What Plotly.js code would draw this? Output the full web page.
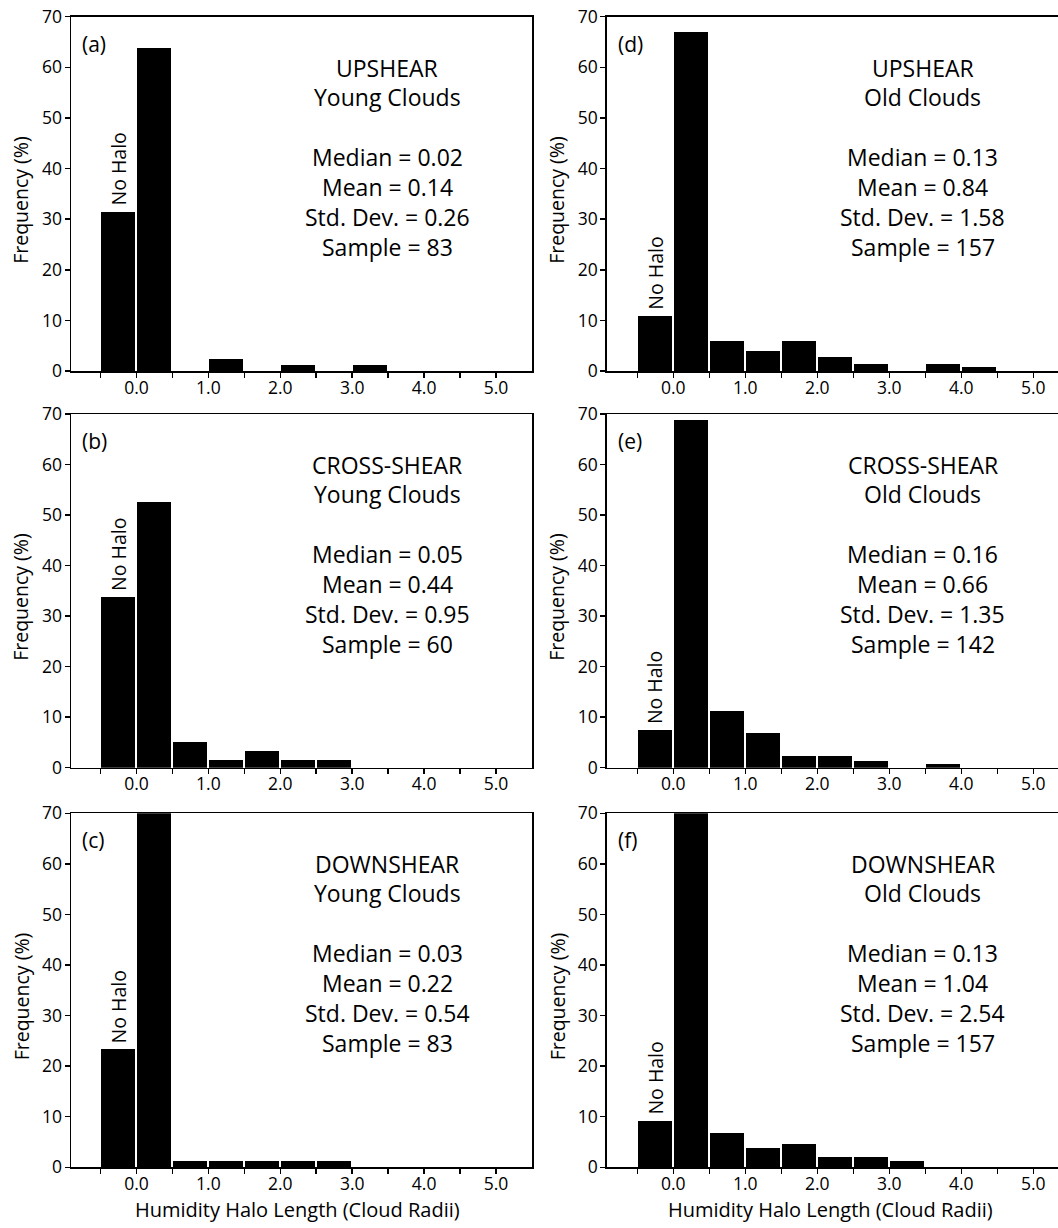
<!DOCTYPE html>
<html>
<head>
<meta charset="utf-8">
<script src="https://cdn.plot.ly/plotly-3.0.1.min.js"></script>
<style>html,body{margin:0;padding:0;background:#fff;}#chart{width:1058px;height:1228px;}</style>
</head>
<body>
<div id="chart"></div>
<script>
// ---- data ----
const binCenters = [-0.25, 0.25, 0.75, 1.25, 1.75, 2.25, 2.75, 3.25, 3.75, 4.25, 4.75];
const xTickVals = [-0.5, 0, 0.5, 1, 1.5, 2, 2.5, 3, 3.5, 4, 4.5, 5];
const xTickText = ['', '0.0', '', '1.0', '', '2.0', '', '3.0', '', '4.0', '', '5.0'];
const yTickVals = [0, 10, 20, 30, 40, 50, 60, 70];

const freqA = [31.5, 63.8, 0, 2.4, 0, 1.2, 0, 1.2, 0, 0, 0];
const freqB = [33.8, 52.6, 5.0, 1.6, 3.4, 1.6, 1.6, 0, 0, 0, 0];
const freqC = [23.3, 70.9, 1.2, 1.2, 1.2, 1.2, 1.2, 0, 0, 0, 0];
const freqD = [10.9, 67.0, 6.0, 3.9, 6.0, 2.8, 1.3, 0, 1.3, 0.7, 0];
const freqE = [7.4, 68.8, 11.2, 6.8, 2.3, 2.3, 1.4, 0, 0.7, 0, 0];
const freqF = [9.2, 70.3, 6.7, 3.9, 4.6, 2.0, 2.0, 1.3, 0, 0, 0];

const panelLetters = ['(a)', '(b)', '(c)', '(d)', '(e)', '(f)'];
const regions = ['UPSHEAR', 'CROSS-SHEAR', 'DOWNSHEAR', 'UPSHEAR', 'CROSS-SHEAR', 'DOWNSHEAR'];
const ages = ['Young Clouds', 'Young Clouds', 'Young Clouds', 'Old Clouds', 'Old Clouds', 'Old Clouds'];
const medians = ['0.02', '0.05', '0.03', '0.13', '0.16', '0.13'];
const means = ['0.14', '0.44', '0.22', '0.84', '0.66', '1.04'];
const stdDevs = ['0.26', '0.95', '0.54', '1.58', '1.35', '2.54'];
const samples = ['83', '60', '83', '157', '142', '157'];
const noHaloLabel = 'No Halo';
const xTitle = 'Humidity Halo Length (Cloud Radii)';
const yTitle = 'Frequency (%)';

const freqs = [freqA, freqB, freqC, freqD, freqE, freqF];

// ---- layout geometry ----
const W = 1058, H = 1228;
const FONT = 'Open Sans, Noto Sans, sans-serif';
const colX = [[71, 532], [606.7, 1058]];
const colRange = [[-0.91, 5.5], [-0.925, 5.343]];
const rowY = [[16.7, 371], [414, 767.7], [813.3, 1167.3]];

const traces = [];
const layout = {
  width: W, height: H,
  margin: {l: 0, r: 0, t: 0, b: 0},
  paper_bgcolor: '#fff', plot_bgcolor: '#fff',
  showlegend: false,
  bargap: 0,
  font: {family: FONT, color: '#000', size: 17},
  annotations: []
};

for (let p = 0; p < 6; p++) {
  const col = p < 3 ? 0 : 1;
  const row = p % 3;
  const idx = p + 1;
  const xa = idx === 1 ? 'xaxis' : 'xaxis' + idx;
  const ya = idx === 1 ? 'yaxis' : 'yaxis' + idx;
  const xr = idx === 1 ? 'x' : 'x' + idx;
  const yr = idx === 1 ? 'y' : 'y' + idx;

  traces.push({
    type: 'bar', x: binCenters, y: freqs[p], xaxis: xr, yaxis: yr,
    width: 0.472, marker: {color: '#000', line: {width: 0}},
    cliponaxis: false, hoverinfo: 'x+y'
  });

  layout[xa] = {
    domain: [colX[col][0] / W, colX[col][1] / W],
    range: colRange[col], anchor: yr,
    showgrid: false, zeroline: false,
    showline: true, linecolor: '#000', linewidth: 1.5, mirror: true,
    ticks: 'outside', ticklen: 5, tickwidth: 1.5, tickcolor: '#000',
    ticklabelstandoff: -5,
    tickmode: 'array', tickvals: xTickVals, ticktext: xTickText,
    tickfont: {family: FONT, size: 17.5, color: '#000'}
  };
  layout[ya] = {
    domain: [1 - rowY[row][1] / H, 1 - rowY[row][0] / H],
    range: [0, 70], anchor: xr,
    showgrid: false, zeroline: false,
    showline: true, linecolor: '#000', linewidth: 1.5, mirror: col === 0,
    ticks: 'outside', ticklen: 5, tickwidth: 1.5, tickcolor: '#000',
    ticklabelstandoff: -1,
    tickmode: 'array', tickvals: yTickVals,
    tickfont: {family: FONT, size: 17.5, color: '#000'}
  };

  const xd = xr + ' domain', yd = yr + ' domain';
  const A = layout.annotations;
  A.push({xref: xd, yref: yd, x: 0, y: 1, xanchor: 'left', yanchor: 'middle',
          xshift: 9, yshift: -27, text: panelLetters[p], showarrow: false,
          font: {family: FONT, size: 21, color: '#000'}});
  const lines = [
    [regions[p], 51],
    [ages[p], 80],
    ['Median = ' + medians[p], 140],
    ['Mean = ' + means[p], 170],
    ['Std. Dev. = ' + stdDevs[p], 200],
    ['Sample = ' + samples[p], 230]
  ];
  lines.forEach(l => {
    A.push({xref: xd, yref: yd, x: 0, y: 1, xanchor: 'center', yanchor: 'middle',
            xshift: 316, yshift: -l[1], text: l[0], showarrow: false,
            font: {family: FONT, size: 23, color: '#000'}});
  });
  // No Halo label above the first bar
  A.push({xref: xr, yref: yr, x: binCenters[0], y: freqs[p][0], xanchor: 'center', yanchor: 'bottom',
          yshift: 4, textangle: -90, text: noHaloLabel, showarrow: false,
          font: {family: FONT, size: 19.5, color: '#000'}});
  // y title
  const yc = (rowY[row][0] + rowY[row][1]) / 2 + 6;
  const xt = col === 0 ? 21 : 557;
  A.push({xref: 'paper', yref: 'paper', x: xt / W, y: 1 - yc / H, xanchor: 'center', yanchor: 'middle',
          textangle: -90, text: yTitle, showarrow: false,
          font: {family: FONT, size: 19.5, color: '#000'}});
}
// x titles
[[297, 0], [830, 1]].forEach(t => {
  layout.annotations.push({xref: 'paper', yref: 'paper', x: t[0] / W, y: 1 - 1209 / H,
    xanchor: 'center', yanchor: 'middle', text: xTitle, showarrow: false,
    font: {family: FONT, size: 20, color: '#000'}});
});

Plotly.newPlot('chart', traces, layout, {staticPlot: true, displayModeBar: false});
</script>
</body>
</html>
